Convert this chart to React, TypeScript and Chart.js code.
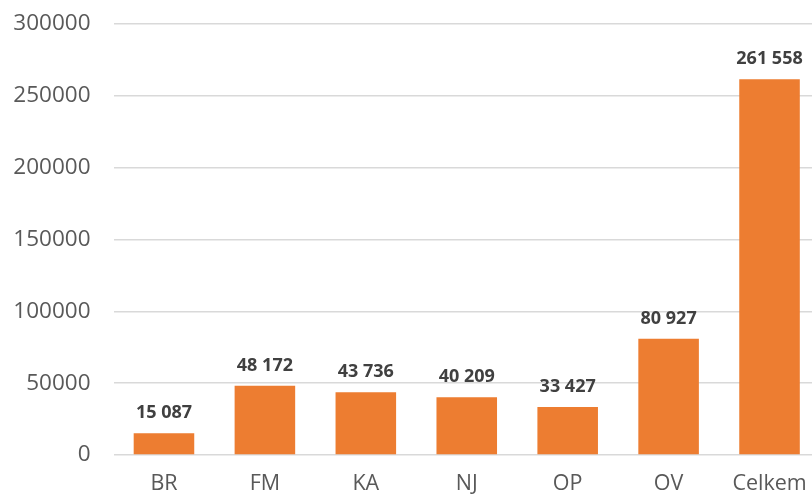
import React, { useEffect, useRef } from "react";
import { Chart, registerables } from "chart.js";

Chart.register(...registerables);

const categories = ["BR", "FM", "KA", "NJ", "OP", "OV", "Celkem"];
const values = [15087, 48172, 43736, 40209, 33427, 80927, 261558];
const yTicks = [0, 50000, 100000, 150000, 200000, 250000, 300000];

const fmt = (v: number) => String(v).replace(/\B(?=(\d{3})+(?!\d))/g, " ");

const dataLabelPlugin = {
  id: "dataLabels",
  afterDatasetsDraw(chart: any) {
    const ctx = chart.ctx;
    const meta = chart.getDatasetMeta(0);
    ctx.save();
    ctx.font = "bold 18px 'Open Sans'";
    ctx.fillStyle = "#404040";
    ctx.textAlign = "center";
    ctx.textBaseline = "alphabetic";
    meta.data.forEach((bar: any, i: number) => {
      ctx.fillText(fmt(values[i]), bar.x, bar.y - 15);
    });
    ctx.restore();
  },
};

export default function App() {
  const ref = useRef<HTMLCanvasElement>(null);
  useEffect(() => {
    if (!ref.current) return;
    const chart = new Chart(ref.current, {
      type: "bar",
      data: {
        labels: categories,
        datasets: [
          {
            data: values,
            backgroundColor: "#ED7D31",
            barPercentage: 0.6,
            categoryPercentage: 1,
          },
        ],
      },
      plugins: [dataLabelPlugin],
      options: {
        animation: false,
        responsive: false,
        maintainAspectRatio: false,
        layout: { padding: { top: 24, left: 0, right: 0, bottom: 0 } },
        plugins: { legend: { display: false }, tooltip: { enabled: false } },
        scales: {
          y: {
            min: 0,
            max: 300000,
            afterBuildTicks: (scale: any) => {
              scale.ticks = yTicks.map((v) => ({ value: v }));
            },
            afterFit: (scale: any) => {
              scale.width = 113.5;
              scale.paddingTop = 0;
              scale.paddingBottom = 0;
            },
            border: { display: false },
            grid: { color: "#D9D9D9", lineWidth: 1.5, drawTicks: false },
            ticks: {
              color: "#595959",
              font: { family: "'Open Sans'", size: 22.5 },
              padding: 23,
              callback: (v: any) => String(v),
            },
          },
          x: {
            afterFit: (scale: any) => {
              scale.height = 43;
              scale.paddingLeft = 0;
              scale.paddingRight = 0;
            },
            border: { display: false },
            grid: { display: false, drawTicks: false },
            ticks: {
              color: "#595959",
              font: { family: "'Open Sans'", size: 21.5 },
              padding: 16,
              maxRotation: 0,
            },
          },
        },
      },
    });
    return () => chart.destroy();
  }, []);
  return (
    <div style={{ position: "fixed", left: 0, top: 0, width: 820, height: 498, background: "#fff" }}>
      <canvas ref={ref} width={820} height={498} style={{ width: 820, height: 498 }} />
    </div>
  );
}
